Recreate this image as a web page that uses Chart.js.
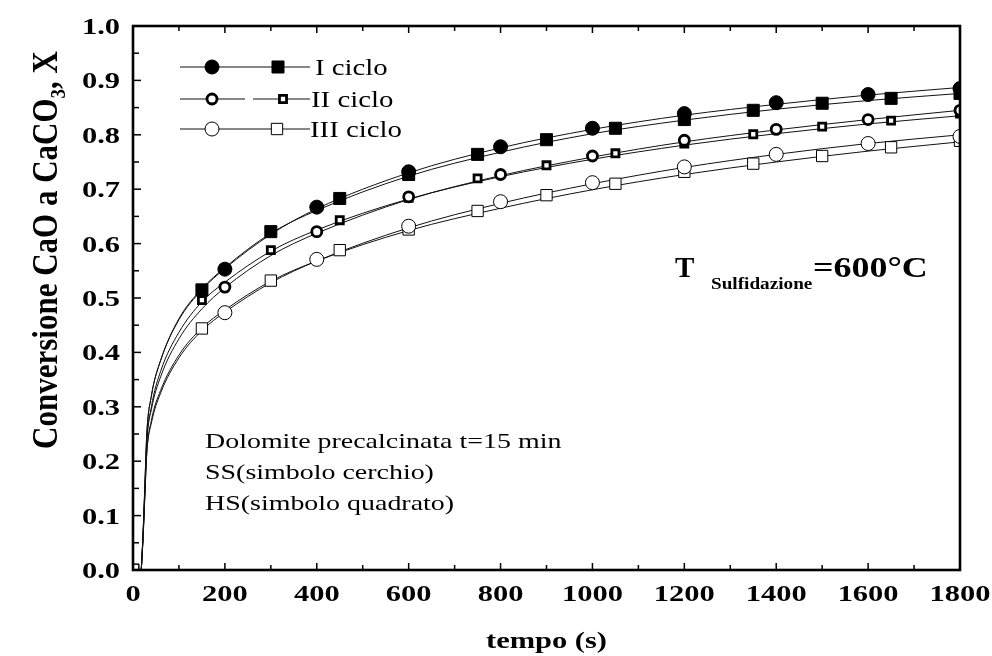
<!DOCTYPE html>
<html>
<head>
<meta charset="utf-8">
<script src="https://cdn.jsdelivr.net/npm/chart.js@4"></script>
<style>
  html, body { margin: 0; padding: 0; background: #fff; }
</style>
</head>
<body>
<canvas id="chart" width="992" height="656"></canvas>
<script>
// measured points (tempo in s, conversione X)
const tCircles = [200, 400, 600, 800, 1000, 1200, 1400, 1600, 1800];
const tSquares = [0, 150, 300, 450, 600, 750, 900, 1050, 1200, 1350, 1500, 1650, 1800];

const ciclo1SS = [0.553, 0.667, 0.732, 0.778, 0.812, 0.839, 0.859, 0.874, 0.885];
const ciclo1HS = [0, 0.515, 0.622, 0.683, 0.727, 0.764, 0.791, 0.812, 0.828, 0.845, 0.858, 0.867, 0.876];
const ciclo2SS = [0.520, 0.622, 0.686, 0.727, 0.761, 0.790, 0.810, 0.828, 0.845];
const ciclo2HS = [0, 0.496, 0.588, 0.643, 0.684, 0.720, 0.744, 0.766, 0.784, 0.801, 0.815, 0.826, 0.839];
const ciclo3SS = [0.473, 0.571, 0.632, 0.677, 0.712, 0.741, 0.764, 0.784, 0.797];
const ciclo3HS = [0, 0.444, 0.532, 0.588, 0.626, 0.660, 0.689, 0.710, 0.732, 0.747, 0.761, 0.777, 0.789];

// fitted curves
const tFit = [18, 22, 26, 30, 40, 60, 100, 150, 200, 300, 400, 600, 800, 1000, 1200, 1400, 1600, 1800];
const fit1SS = [0, 0.07, 0.16, 0.25, 0.32, 0.385, 0.46, 0.515, 0.554, 0.617, 0.664, 0.730, 0.776, 0.810, 0.836, 0.856, 0.873, 0.887];
const fit1HS = [0, 0.07, 0.16, 0.25, 0.32, 0.385, 0.462, 0.517, 0.556, 0.619, 0.661, 0.724, 0.768, 0.802, 0.827, 0.847, 0.863, 0.876];
const fit2SS = [0, 0.065, 0.15, 0.235, 0.295, 0.355, 0.425, 0.480, 0.519, 0.578, 0.619, 0.681, 0.725, 0.759, 0.787, 0.809, 0.828, 0.845];
const fit2HS = [0, 0.065, 0.15, 0.235, 0.30, 0.365, 0.437, 0.493, 0.529, 0.586, 0.625, 0.682, 0.723, 0.755, 0.781, 0.802, 0.820, 0.835];
const fit3SS = [0, 0.06, 0.14, 0.215, 0.27, 0.325, 0.39, 0.44, 0.474, 0.528, 0.568, 0.629, 0.674, 0.710, 0.740, 0.764, 0.784, 0.800];
const fit3HS = [0, 0.06, 0.14, 0.215, 0.275, 0.33, 0.395, 0.445, 0.478, 0.531, 0.568, 0.624, 0.665, 0.699, 0.727, 0.750, 0.770, 0.787];

const xTickLabels = ['0', '200', '400', '600', '800', '1000', '1200', '1400', '1600', '1800'];
const yTickLabels = ['0.0', '0.1', '0.2', '0.3', '0.4', '0.5', '0.6', '0.7', '0.8', '0.9', '1.0'];
const legendLabels = ['I ciclo', 'II ciclo', 'III ciclo'];

const SERIF = '"Liberation Serif", "Times New Roman", serif';
const SX = 1.27; // text in the original is drawn a bit wide

const pts = (xs, ys) => xs.map((x, i) => ({ x: x, y: ys[i] }));

function fitLine(ys) {
  return {
    type: 'line',
    data: pts(tFit, ys),
    borderColor: '#111',
    borderWidth: 1,
    pointRadius: 0,
    cubicInterpolationMode: 'monotone',
    fill: false,
    order: 10
  };
}

function markers(xs, ys, style, radius, bw, bg, order) {
  return {
    type: 'line',
    data: pts(xs, ys),
    showLine: false,
    pointStyle: style,
    pointRadius: radius,
    pointBorderWidth: bw,
    pointBorderColor: '#000',
    pointBackgroundColor: bg,
    clip: 0,
    order: order
  };
}

function wideText(ctx, s, x, y, font, align, sx) {
  ctx.save();
  ctx.font = font;
  ctx.textAlign = 'left';
  ctx.textBaseline = 'alphabetic';
  const w = ctx.measureText(s).width * sx;
  let x0 = x;
  if (align === 'center') x0 = x - w / 2;
  if (align === 'right') x0 = x - w;
  ctx.translate(x0, y);
  ctx.scale(sx, 1);
  ctx.fillStyle = '#000';
  ctx.fillText(s, 0, 0);
  ctx.restore();
  return w;
}

function drawCircle(ctx, x, y, r, bw, bg) {
  ctx.beginPath();
  ctx.arc(x, y, r, 0, Math.PI * 2);
  ctx.fillStyle = bg;
  ctx.fill();
  ctx.lineWidth = bw;
  ctx.strokeStyle = '#000';
  ctx.stroke();
}

function drawSquare(ctx, x, y, r, bw, bg) {
  const h = r * Math.SQRT1_2;
  ctx.beginPath();
  ctx.rect(x - h, y - h, 2 * h, 2 * h);
  ctx.fillStyle = bg;
  ctx.fill();
  ctx.lineWidth = bw;
  ctx.strokeStyle = '#000';
  ctx.stroke();
}

const framePlugin = {
  id: 'frame',
  afterDraw(chart) {
    const ctx = chart.ctx;
    const a = chart.chartArea;
    const xs = chart.scales.x, ys = chart.scales.y;
    ctx.save();
    ctx.strokeStyle = '#000';

    // ticks pointing inward
    ctx.lineWidth = 1.5;
    for (let v = 0; v <= 1800; v += 100) {
      const px = xs.getPixelForValue(v);
      const len = v % 200 === 0 ? 7 : 5;
      ctx.beginPath();
      ctx.moveTo(px, a.bottom); ctx.lineTo(px, a.bottom - len);
      ctx.moveTo(px, a.top); ctx.lineTo(px, a.top + len);
      ctx.stroke();
    }
    for (let i = 0; i <= 20; i++) {
      const py = ys.getPixelForValue(i * 0.05);
      const len = i % 2 === 0 ? 8 : 6;
      ctx.beginPath();
      ctx.moveTo(a.left, py); ctx.lineTo(a.left + len, py);
      ctx.stroke();
    }

    // box
    ctx.lineWidth = 2.6;
    ctx.strokeRect(a.left, a.top, a.right - a.left, a.bottom - a.top);

    // tick labels
    const tickFont = 'bold 24px ' + SERIF;
    xTickLabels.forEach(lab => {
      wideText(ctx, lab, xs.getPixelForValue(Number(lab)), 601, tickFont, 'center', SX);
    });
    yTickLabels.forEach(lab => {
      wideText(ctx, lab, 120, ys.getPixelForValue(Number(lab)) + 8, tickFont, 'right', SX);
    });

    // axis titles
    wideText(ctx, 'tempo (s)', (a.left + a.right) / 2, 648, 'bold 24px ' + SERIF, 'center', SX);

    ctx.save();
    ctx.translate(57, 250);
    ctx.rotate(-Math.PI / 2);
    ctx.scale(1, 1.15);
    ctx.fillStyle = '#000';
    ctx.textBaseline = 'alphabetic';
    ctx.textAlign = 'left';
    const big = 'bold 31px ' + SERIF, small = 'bold 19px ' + SERIF;
    const parts = [['Conversione CaO a CaCO', big, 0], ['3', small, 7], [', X', big, 0]];
    let total = 0;
    parts.forEach(p => { ctx.font = p[1]; total += ctx.measureText(p[0]).width; });
    let cx = -total / 2;
    parts.forEach(p => {
      ctx.font = p[1];
      ctx.fillText(p[0], cx, p[2]);
      cx += ctx.measureText(p[0]).width;
    });
    ctx.restore();

    // legend
    const rows = [67, 99, 129];
    ctx.lineWidth = 1;
    ctx.strokeStyle = '#111';
    ctx.beginPath();
    ctx.moveTo(180, rows[0]); ctx.lineTo(310, rows[0]);
    ctx.moveTo(180, rows[1]); ctx.lineTo(245, rows[1]);
    ctx.moveTo(253, rows[1]); ctx.lineTo(310, rows[1]);
    ctx.moveTo(180, rows[2]); ctx.lineTo(310, rows[2]);
    ctx.stroke();
    drawCircle(ctx, 212, rows[0], 7, 1, '#000');
    drawSquare(ctx, 278, rows[0], 8.5, 1, '#000');
    drawCircle(ctx, 212, rows[1], 5, 2.8, '#fff');
    drawSquare(ctx, 283, rows[1], 5, 2.8, '#fff');
    drawCircle(ctx, 212, rows[2], 7, 1, '#fff');
    drawSquare(ctx, 277, rows[2], 8, 1, '#fff');
    const legFont = '24px ' + SERIF;
    wideText(ctx, legendLabels[0], 315, rows[0] + 8, legFont, 'left', 1.2);
    wideText(ctx, legendLabels[1], 311, rows[1] + 8, legFont, 'left', 1.2);
    wideText(ctx, legendLabels[2], 310, rows[2] + 8, legFont, 'left', 1.2);

    // notes
    const noteFont = '22px ' + SERIF;
    wideText(ctx, 'Dolomite precalcinata t=15 min', 205, 448, noteFont, 'left', SX);
    wideText(ctx, 'SS(simbolo cerchio)', 205, 479, noteFont, 'left', SX);
    wideText(ctx, 'HS(simbolo quadrato)', 205, 510, noteFont, 'left', SX);

    wideText(ctx, 'T', 675, 277, 'bold 29px ' + SERIF, 'left', 1.0);
    wideText(ctx, 'Sulfidazione', 711, 289, 'bold 16px ' + SERIF, 'left', 1.2);
    wideText(ctx, '=600°C', 813, 277, 'bold 29px ' + SERIF, 'left', 1.24);

    ctx.restore();
  }
};

new Chart(document.getElementById('chart').getContext('2d'), {
  type: 'line',
  data: {
    datasets: [
      fitLine(fit1SS), fitLine(fit1HS),
      fitLine(fit2SS), fitLine(fit2HS),
      fitLine(fit3SS), fitLine(fit3HS),
      markers(tCircles, ciclo1SS, 'circle', 7, 1, '#000', 3),
      markers(tSquares, ciclo1HS, 'rect', 8.5, 1, '#000', 3),
      markers(tCircles, ciclo2SS, 'circle', 5, 2.8, '#fff', 2),
      markers(tSquares, ciclo2HS, 'rect', 5, 2.8, '#fff', 2),
      markers(tCircles, ciclo3SS, 'circle', 7, 1, '#fff', 1),
      markers(tSquares, ciclo3HS, 'rect', 8, 1, '#fff', 1)
    ]
  },
  options: {
    responsive: false,
    animation: false,
    devicePixelRatio: 1,
    layout: { padding: { left: 133, right: 32, top: 26, bottom: 86 } },
    plugins: { legend: { display: false }, tooltip: { enabled: false } },
    scales: {
      x: { type: 'linear', display: false, min: 0, max: 1800 },
      y: { type: 'linear', display: false, min: 0, max: 1 }
    }
  },
  plugins: [framePlugin]
});
</script>
</body>
</html>
